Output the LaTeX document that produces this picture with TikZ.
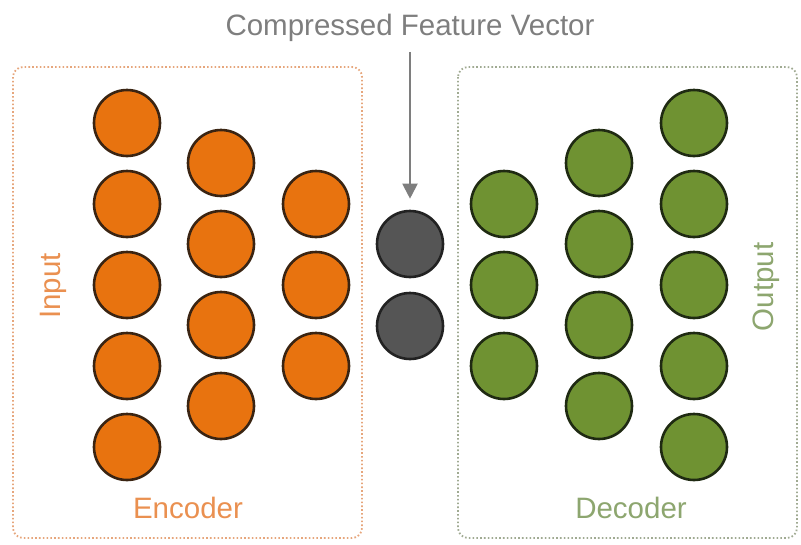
\documentclass[tikz,border=0pt]{standalone}
\usepackage{fontspec}
\setmainfont{Liberation Sans}
\usetikzlibrary{arrows.meta}

\definecolor{encfill}{HTML}{E8730F}
\definecolor{encedge}{HTML}{3A2412}
\definecolor{enctext}{HTML}{EA9050}
\definecolor{encbox}{HTML}{E6A67C}
\definecolor{decfill}{HTML}{6F9232}
\definecolor{decedge}{HTML}{1F2A12}
\definecolor{dectext}{HTML}{8DA66F}
\definecolor{decbox}{HTML}{A0AA92}
\definecolor{codefill}{HTML}{555555}
\definecolor{codeedge}{HTML}{222222}
\definecolor{labelgray}{HTML}{7E7E7E}

\tikzset{
  neuron/.style={circle, minimum size=66pt, inner sep=0pt, line width=2.6pt},
  encn/.style={neuron, fill=encfill, draw=encedge},
  decn/.style={neuron, fill=decfill, draw=decedge},
  coden/.style={neuron, fill=codefill, draw=codeedge},
  stagebox/.style={rounded corners=10pt, line width=1.8pt, dash pattern=on 1.6pt off 2.2pt},
  bigtext/.style={font=\fontsize{29.5}{34}\selectfont, inner sep=0pt},
}

\begin{document}
\begin{tikzpicture}[x=1pt, y=-1pt]
  \useasboundingbox (0,0) rectangle (801,544);

  % stage frames
  \draw[stagebox, draw=encbox] (13,67) rectangle (362,538);
  \draw[stagebox, draw=decbox] (458,67) rectangle (797,538);

  % encoder layers
  \foreach \y [count=\i] in {123,204,285,366,447}
    \node[encn] (e1\i) at (127,\y) {};
  \foreach \y [count=\i] in {163,244,325,406}
    \node[encn] (e2\i) at (221,\y) {};
  \foreach \y [count=\i] in {204,285,366}
    \node[encn] (e3\i) at (316,\y) {};

  % bottleneck
  \node[coden] (c1) at (410,244) {};
  \node[coden] (c2) at (410,326) {};

  % decoder layers
  \foreach \y [count=\i] in {204,285,366}
    \node[decn] (d1\i) at (504,\y) {};
  \foreach \y [count=\i] in {163,244,325,406}
    \node[decn] (d2\i) at (599,\y) {};
  \foreach \y [count=\i] in {123,204,285,366,447}
    \node[decn] (d3\i) at (694,\y) {};

  % labels
  \node[bigtext, text=labelgray] (cfv) at (410,28) {Compressed Feature Vector};
  \node[bigtext, text=enctext] (enc) at (188,508) {Encoder};
  \node[bigtext, text=dectext] (dec) at (631,508) {Decoder};
  \node[bigtext, text=enctext, rotate=90] (inp) at (53,286) {Input};
  \node[bigtext, text=dectext, rotate=90] (outp) at (766,287) {Output};

  % pointer to the code layer
  \draw[labelgray, line width=2pt, -{Triangle[length=15pt, width=15pt]}]
    (cfv.south -| c1) ++(0,10) -- ([yshift=11pt]c1.north);
\end{tikzpicture}
\end{document}
